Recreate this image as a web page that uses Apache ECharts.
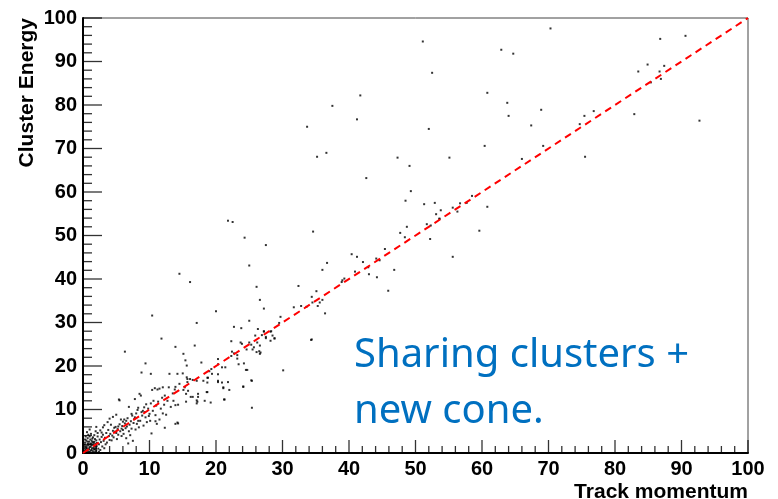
<!DOCTYPE html>
<html>
<head>
<meta charset="utf-8">
<script src="https://cdn.jsdelivr.net/npm/echarts@6/dist/echarts.min.js"></script>
<style>
html,body{margin:0;padding:0;background:#fff;}
#chart{width:778px;height:499px;}
</style>
</head>
<body>
<div id="chart"></div>
<script>
// ---- data ----
const xTitle = "Track momentum";
const yTitle = "Cluster Energy";
const noteLines = ["Sharing clusters +", "new cone."];
const axisMin = 0;
const axisMax = 100;
const tickStep = 10;
const minorPerMajor = 5;

// reference line Cluster Energy = Track momentum
const refX = [0, 100];
const refY = [0, 100];

// scatter points [track momentum, cluster energy]
const coreBlob = [
 [0.2,0.3],[0.4,0.8],[0.3,1.5],[0.5,0.2],[0.6,1.1],[0.7,0.5],[0.8,1.8],[0.9,0.9],[1.0,0.3],[1.1,1.4],
 [1.2,2.2],[1.3,0.7],[1.4,1.9],[1.5,0.4],[1.6,1.2],[1.7,2.6],[1.8,0.8],[1.9,1.7],[2.0,0.5],[2.1,2.3],
 [0.3,2.4],[0.5,2.9],[0.7,3.4],[0.9,2.6],[1.1,3.1],[1.3,2.8],[1.5,3.6],[1.6,2.4],[1.8,3.2],[2.0,2.9],
 [0.15,0.1],[0.35,0.55],[0.55,1.6],[0.75,2.1],[0.95,1.3],[1.15,0.6],[1.35,1.1],[1.55,2.0],[1.75,1.5],[1.95,1.1],
 [0.25,1.9],[0.45,1.2],[0.65,2.6],[0.85,0.2],[1.05,2.0],[1.25,1.7],[1.45,2.5],[1.65,0.9],[1.85,2.1],[2.05,1.6],
 [2.2,3.8],[0.4,3.8],[0.8,4.2],[1.2,4.4],[1.4,3.3],[2.3,1.0],[2.4,2.0],[2.5,3.1],[2.6,0.7],[2.2,4.6],
 [0.6,4.8],[1.0,3.8],[1.7,4.1],[2.7,2.5],[2.8,3.7],[2.9,1.5],[3.0,4.2],[1.9,5.0],[0.3,3.1],[1.0,5.4],
 [0.1,0.6],[0.2,1.1],[0.6,0.05],[1.2,0.1],[1.8,0.2],[2.4,0.3],[3.1,2.8],[3.2,1.1]
];
const lowBand = [
 [3.3,3.5],[3.5,4.6],[3.6,2.4],[3.8,5.3],[3.9,3.9],[4.1,4.4],[4.2,6.5],[4.3,2.9],[4.5,5.1],[4.5,8.3],
 [4.6,3.6],[4.8,4.9],[4.9,6.0],[5.0,8.8],[5.1,3.2],[5.2,5.5],[5.3,4.2],[5.4,12.3],[5.5,6.6],[5.5,12.1],
 [5.6,5.0],[5.7,7.7],[5.8,3.9],[5.9,6.2],[6.0,5.3],[6.1,4.4],[6.2,7.7],[6.3,6.8],[6.3,23.3],[6.4,5.7],
 [6.5,3.4],[6.6,6.1],[6.7,8.0],[6.8,2.2],[6.9,10.6],[7.0,6.5],[7.1,4.1],[7.2,7.3],[7.3,5.6],[7.4,8.6],
 [7.5,2.8],[7.6,6.9],[7.7,7.8],[7.8,12.4],[7.9,5.4],[8.0,9.1],[8.1,6.7],[8.2,9.9],[8.3,7.4],[8.4,5.9],
 [8.5,13.6],[8.6,7.4],[8.7,13.2],[8.8,18.5],[8.9,8.6],[9.0,9.7],[9.1,6.3],[9.2,10.5],[9.3,9.4],[9.4,8.2],
 [9.4,20.6],[9.5,11.2],[9.6,7.1],[9.8,10.2],[9.9,8.5],[10.0,9.0],[10.1,7.4],[10.2,18.2],[10.2,11.4],[10.3,4.5],
 [10.4,14.5],[10.4,31.6],[10.5,9.7],[10.6,12.0],[10.8,14.9],[10.9,7.3],[10.9,8.7],[11.0,10.9],[11.1,6.7],[11.2,14.6],
 [11.3,11.8],[11.5,7.7],[11.5,14.8],[11.7,10.2],[11.8,26.3],[11.9,12.7],[12.0,9.1],[12.0,15.1],[12.2,11.1],[12.3,13.2],
 [12.3,5.8],[12.5,8.8],[12.7,12.0],[12.9,15.1],[13.0,18.2],[13.2,10.6],[13.5,13.7],[13.6,12.0],[13.8,14.6],[13.9,15.2],
 [13.9,6.7],[13.9,11.0],[13.9,24.4],[14.2,7.0],[14.2,18.2],[14.3,11.1],[14.3,6.8],[14.5,15.9],[14.5,41.2],
 [3.4,2.0],[4.0,3.0],[4.4,4.0],[4.7,5.8],[5.0,4.6],[5.3,6.1],[5.8,5.6],[6.0,7.2],[6.5,7.4],[6.9,5.0],
 [7.3,9.0],[7.8,8.2],[8.3,10.4],[8.8,9.4],[2.6,5.2],[3.0,5.9],[3.2,6.4],[2.0,6.0],[3.7,7.1],[4.0,7.9],[2.8,4.7]
];
const midBand = [
 [15.1,22.8],[15.4,21.3],[15.6,20.1],[15.0,18.3],[15.6,17.4],[16.1,17.0],[17.8,20.8],[18.7,17.3],[18.6,14.0],[20.3,16.3],
 [21.1,14.9],[21.8,16.3],[21.2,12.3],[22.3,22.3],[23.2,21.7],[24.1,15.3],[24.5,19.1],[25.3,16.7],[25.4,10.4],[26.7,23.1],
 [26.1,23.2],[30.1,19.0],[17.1,12.1],[17.1,11.4],[15.5,13.6],[16.2,12.9],[17.3,13.6],[15.7,17.0],[15.7,16.3],[15.8,14.3],
 [15.1,14.5],[15.3,15.1],[16.5,16.8],[17.1,16.6],[20.3,20.4],[20.9,19.7],[21.4,19.7],[20.3,18.1],[20.9,16.2],[21.1,15.1],
 [22.0,14.5],[20.3,16.6],[21.3,12.3],[18.7,14.0],[15.5,11.8],[16.5,12.9],[17.3,12.9],[17.2,11.8],[18.3,12.0],[19.2,11.6],
 [18.8,17.3],[18.7,16.2],[18.1,16.6],[19.0,18.8],[19.4,18.2],[19.3,19.3],[23.9,25.1],[25.0,25.4],[25.3,24.9],[25.7,24.3],
 [26.2,25.4],[24.6,23.8],[25.5,23.8],[26.5,23.4],[26.6,22.8],[22.4,23.3],[22.7,22.9],[23.2,22.5],[20.3,21.6],[23.4,20.4],
 [24.2,20.6],[24.7,19.1],[24.1,15.2],[25.4,16.6],[34.3,26.0],[27.2,27.9],[28.2,27.9],[28.8,26.4],[27.5,26.7],[28.2,25.8],
 [26.9,27.1],[28.5,27.0]
];
const upperPoints = [
 [17.1,29.9],[22.3,25.7],[23.7,25.4],[22.7,29.0],[23.8,28.7],[25.0,30.4],[20.0,32.6],[16.8,24.7],[27.2,33.2],[26.6,35.2],
 [26.1,38.2],[25.0,43.1],[16.1,39.3],[21.8,53.4],[22.5,53.1],[24.3,49.5],[27.5,47.8],[34.6,50.9],[26.3,28.5],[27.2,28.0],
 [27.5,26.4],[25.9,27.0],[26.6,24.7],[28.3,28.0],[28.8,26.3],[29.5,29.9],[29.7,31.3],[32.4,38.4],[31.7,33.5],[32.8,33.8],
 [33.6,33.6],[34.4,35.9],[35.1,37.2],[34.5,34.6],[35.6,34.6],[36.0,35.2],[35.3,33.8],[36.4,32.1],[34.4,26.1],[36.0,42.1],
 [36.7,43.7],[39.0,39.7],[39.3,40.1],[38.9,39.3],[40.4,45.7],[41.2,45.1],[42.1,43.9],[40.9,41.7],[43.0,41.1],[44.2,40.4],
 [42.9,42.7],[44.1,44.7],[44.6,44.3],[45.4,46.9],[46.8,42.1],[45.9,37.3],[47.7,50.6],[48.4,49.6],[48.7,52.0],[51.7,52.6],
 [52.2,49.2],[52.3,52.3],[53.6,53.8],[59.6,51.1],[55.6,45.1],
 [70.3,97.6],[51.1,94.6],[62.9,92.7],[64.7,91.8],[86.8,95.2],[90.6,95.9],[52.5,87.4],[84.9,89.3],[87.4,89.0],[83.5,87.7],
 [86.7,87.7],[86.9,86.0],[85.4,85.2],[41.7,82.2],[37.5,79.8],[41.2,76.7],[33.7,75.0],[60.8,82.8],[63.8,80.5],[64.0,77.5],
 [68.9,78.9],[67.4,75.3],[52.0,74.5],[82.9,77.9],[92.7,76.4],[75.4,77.5],[76.8,78.6],[74.7,75.6],[75.5,68.1],[69.2,70.6],
 [66.0,67.6],[60.4,70.6],[55.1,67.9],[35.2,68.1],[36.6,69.0],[47.3,67.9],[49.1,66.0],[42.6,63.2],[49.3,60.2],[48.5,58.0],
 [51.3,57.2],[52.9,57.5],[53.8,55.8],[53.1,54.9],[55.6,56.4],[56.7,57.4],[58.5,59.1],[60.8,56.6],[56.3,55.5],[57.7,57.5],
 [53.6,53.9]
];

// ---- chart ----
const chart = echarts.init(document.getElementById('chart'));
const G = {left: 83, top: 18, right: 30, bottom: 46};
const labelFont = {fontFamily: 'Liberation Sans, Arial, sans-serif', fontWeight: 'bold', fontSize: 20, color: '#000'};
const titleFont = 'bold 21px "Liberation Sans", Arial, sans-serif';

// ROOT-style inside tick marks, positions taken from the axis settings
const tickLen = {xMajor: 13, xMinor: 7, yMajor: 19, yMinor: 9};
const tickW = 1.3;
const xMajorTicks = [], xMinorTicks = [], yMajorTicks = [], yMinorTicks = [];
const minorStep = tickStep / minorPerMajor;
for (let i = 0; axisMin + i * minorStep <= axisMax + 1e-9; i++) {
  const v = +(axisMin + i * minorStep).toFixed(6);
  if (i % minorPerMajor === 0) { xMajorTicks.push([v, axisMin]); yMajorTicks.push([axisMin, v]); }
  else { xMinorTicks.push([v, axisMin]); yMinorTicks.push([axisMin, v]); }
}
function tickSeries(name, pts, size, offset) {
  return {type: 'scatter', name: name, data: pts, symbol: 'rect', symbolSize: size, symbolOffset: offset,
          itemStyle: {color: '#000'}, silent: true, clip: false, z: 3, emphasis: {disabled: true}};
}

function scat(name, pts) {
  return {type: 'scatter', name: name, data: pts, symbol: 'rect', symbolSize: 2,
          itemStyle: {color: '#000'}, silent: true, z: 2};
}
function mainAxis() {
  return {type: 'value', min: axisMin, max: axisMax, interval: tickStep,
    axisLine: {show: true, lineStyle: {color: '#000', width: 2}},
    axisTick: {show: false}, minorTick: {show: false},
    splitLine: {show: false},
    axisLabel: Object.assign({margin: 6}, labelFont)
  };
}
chart.setOption({
  animation: false,
  grid: {left: G.left, top: G.top, right: G.right, bottom: G.bottom,
         show: true, borderColor: '#444', borderWidth: 1},
  xAxis: mainAxis(),
  yAxis: mainAxis(),
  graphic: [
    {type: 'text', x: 748, y: 482, z: 10,
     style: {text: xTitle, fill: '#000', font: titleFont, align: 'right', verticalAlign: 'top'}},
    {type: 'text', x: 27.5, y: 18, rotation: Math.PI / 2, z: 10,
     style: {text: yTitle, fill: '#000', font: titleFont, align: 'right', verticalAlign: 'middle'}},
    {type: 'text', x: 354, y: 328, z: 10,
     style: {text: noteLines.join('\n'), fill: '#0070C0', font: '40px "Noto Sans", "Open Sans", sans-serif', lineHeight: 56, align: 'left', verticalAlign: 'top'}}
  ],
  series: [
    scat('core', coreBlob),
    scat('low', lowBand),
    scat('mid', midBand),
    scat('upper', upperPoints),
    tickSeries('xMajorTicks', xMajorTicks, [tickW, tickLen.xMajor], [0, -tickLen.xMajor / 2]),
    tickSeries('xMinorTicks', xMinorTicks, [tickW, tickLen.xMinor], [0, -tickLen.xMinor / 2]),
    tickSeries('yMajorTicks', yMajorTicks, [tickLen.yMajor, tickW], [tickLen.yMajor / 2, 0]),
    tickSeries('yMinorTicks', yMinorTicks, [tickLen.yMinor, tickW], [tickLen.yMinor / 2, 0]),
    {type: 'line', name: 'E = p', data: refX.map((x, i) => [x, refY[i]]), showSymbol: false, symbol: 'none',
     lineStyle: {color: '#ff0000', width: 2, type: [7, 5]}, z: 5, silent: true}
  ]
});
</script>
</body>
</html>
